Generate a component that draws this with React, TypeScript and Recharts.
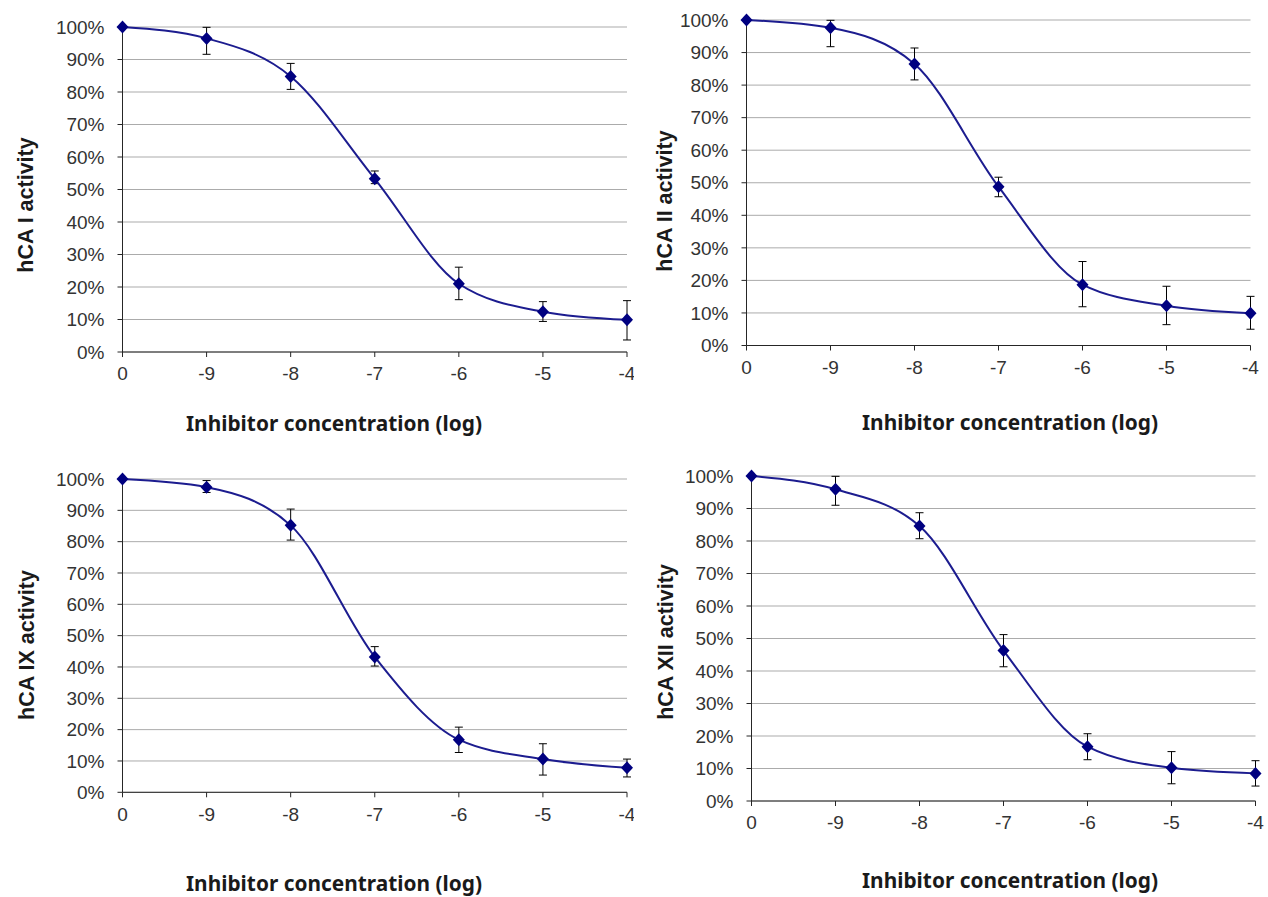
import { LineChart, Line, XAxis, YAxis, CartesianGrid, ErrorBar } from "recharts"

// log concentration categories, as printed on the x axis
const concentrations = ["0", "-9", "-8", "-7", "-6", "-5", "-4"]
const yTicks = [0, 10, 20, 30, 40, 50, 60, 70, 80, 90, 100]

// remaining activity (%) and error bars [below, above]
const hca1Activity = [100, 96.5, 84.8, 53.3, 21.0, 12.4, 9.9]
const hca1Error = [null, [4.9, 3.4], [4.0, 4.0], [1.5, 2.4], [4.9, 5.1], [3.0, 3.1], [6.2, 5.9]]

const hca2Activity = [100, 97.6, 86.5, 48.8, 18.7, 12.2, 9.9]
const hca2Error = [null, [5.8, 2.3], [4.9, 4.9], [3.1, 2.9], [6.8, 7.1], [5.8, 6.0], [4.9, 5.2]]

const hca9Activity = [100, 97.4, 85.2, 43.2, 16.8, 10.6, 7.8]
const hca9Error = [null, [1.7, 2.1], [4.7, 5.2], [2.9, 3.3], [4.1, 4.0], [5.1, 4.9], [2.9, 2.8]]

const hca12Activity = [100, 95.9, 84.6, 46.3, 16.7, 10.2, 8.5]
const hca12Error = [null, [4.9, 4.0], [3.9, 4.1], [5.0, 4.9], [4.0, 4.0], [4.9, 5.0], [3.9, 3.9]]

const axisColor = "#262626"
const lineColor = "#1c1c8f"
const markerColor = "#000080"

const tickStyle = { fill: "#333", fontSize: 19, fontFamily: "'Liberation Sans', Arial, sans-serif" }

interface Frame {
  left: number
  top: number
  width: number
  height: number
  plot: [number, number, number, number] // x0, x1, y0, y1 inside the panel
  yTitle: [number, number]
  xTitle: [number, number]
}

const frames: Frame[] = [
  { left: 0, top: 0, width: 634, height: 448, plot: [122.5, 627, 27, 352], yTitle: [26, 205], xTitle: [334, 423] },
  { left: 634, top: 0, width: 634, height: 448, plot: [112.5, 616.5, 20, 345.5], yTitle: [31, 201], xTitle: [376, 422] },
  { left: 0, top: 448, width: 634, height: 449, plot: [122.5, 627, 31, 344.3], yTitle: [27, 197], xTitle: [334, 435] },
  { left: 634, top: 448, width: 634, height: 449, plot: [117.5, 621.5, 28, 353], yTitle: [32, 194], xTitle: [376, 432] },
]

const renderDiamond = (props: any) => {
  const { cx, cy, index } = props
  return (
    <path
      key={`dot-${index}`}
      d={`M${cx} ${cy - 6.5}L${cx + 6} ${cy}L${cx} ${cy + 6.5}L${cx - 6} ${cy}Z`}
      fill={markerColor}
    />
  )
}

interface PanelProps {
  label: string
  activity: number[]
  error: (number[] | null)[]
  frame: Frame
}

function ActivityPanel({ label, activity, error, frame }: PanelProps) {
  const data = concentrations.map((conc, i) => ({ conc, activity: activity[i], err: error[i] }))
  const [x0, x1, y0, y1] = frame.plot
  const xAxisHeight = 40

  return (
    <div style={{ position: "absolute", left: frame.left, top: frame.top, width: frame.width, height: frame.height }}>
      <LineChart
        width={frame.width}
        height={frame.height}
        data={data}
        margin={{ top: y0, right: frame.width - x1, bottom: frame.height - y1 - xAxisHeight, left: 0 }}
      >
        <CartesianGrid vertical={false} stroke="#ababab" />
        <XAxis
          dataKey="conc"
          interval={0}
          height={xAxisHeight}
          tickSize={5}
          tickMargin={10}
          axisLine={{ stroke: axisColor }}
          tickLine={{ stroke: axisColor }}
          tick={tickStyle}
        />
        <YAxis
          type="number"
          domain={[0, 100]}
          ticks={yTicks}
          width={x0}
          tickSize={5}
          tickMargin={13}
          tickFormatter={(v) => `${v}%`}
          axisLine={{ stroke: axisColor }}
          tickLine={{ stroke: axisColor }}
          tick={tickStyle}
        />
        <Line
          dataKey="activity"
          type="monotone"
          stroke={lineColor}
          strokeWidth={2}
          dot={renderDiamond}
          activeDot={false}
          isAnimationActive={false}
        >
          <ErrorBar dataKey="err" direction="y" width={4} stroke="#000" strokeWidth={1} isAnimationActive={false} />
        </Line>
      </LineChart>
      <svg
        width={frame.width}
        height={frame.height}
        style={{ position: "absolute", left: 0, top: 0, pointerEvents: "none" }}
      >
        <text
          x={frame.yTitle[0]}
          y={frame.yTitle[1]}
          transform={`rotate(-90 ${frame.yTitle[0]} ${frame.yTitle[1]})`}
          textAnchor="middle"
          dominantBaseline="central"
          fontFamily="'Liberation Sans', Arial, sans-serif"
          fontWeight="bold"
          fontSize={21.5}
          fill="#1a1a1a"
        >
          {label}
        </text>
        <text
          x={frame.xTitle[0]}
          y={frame.xTitle[1]}
          textAnchor="middle"
          dominantBaseline="central"
          fontFamily="'Noto Sans', sans-serif"
          fontWeight="bold"
          fontSize={21}
          textLength={296}
          lengthAdjust="spacingAndGlyphs"
          fill="#1a1a1a"
        >
          Inhibitor concentration (log)
        </text>
      </svg>
    </div>
  )
}

export default function App() {
  return (
    <div style={{ position: "absolute", left: 0, top: 0, width: 1268, height: 897, background: "#fff" }}>
      <ActivityPanel label="hCA I activity" activity={hca1Activity} error={hca1Error} frame={frames[0]} />
      <ActivityPanel label="hCA II activity" activity={hca2Activity} error={hca2Error} frame={frames[1]} />
      <ActivityPanel label="hCA IX activity" activity={hca9Activity} error={hca9Error} frame={frames[2]} />
      <ActivityPanel label="hCA XII activity" activity={hca12Activity} error={hca12Error} frame={frames[3]} />
    </div>
  )
}
